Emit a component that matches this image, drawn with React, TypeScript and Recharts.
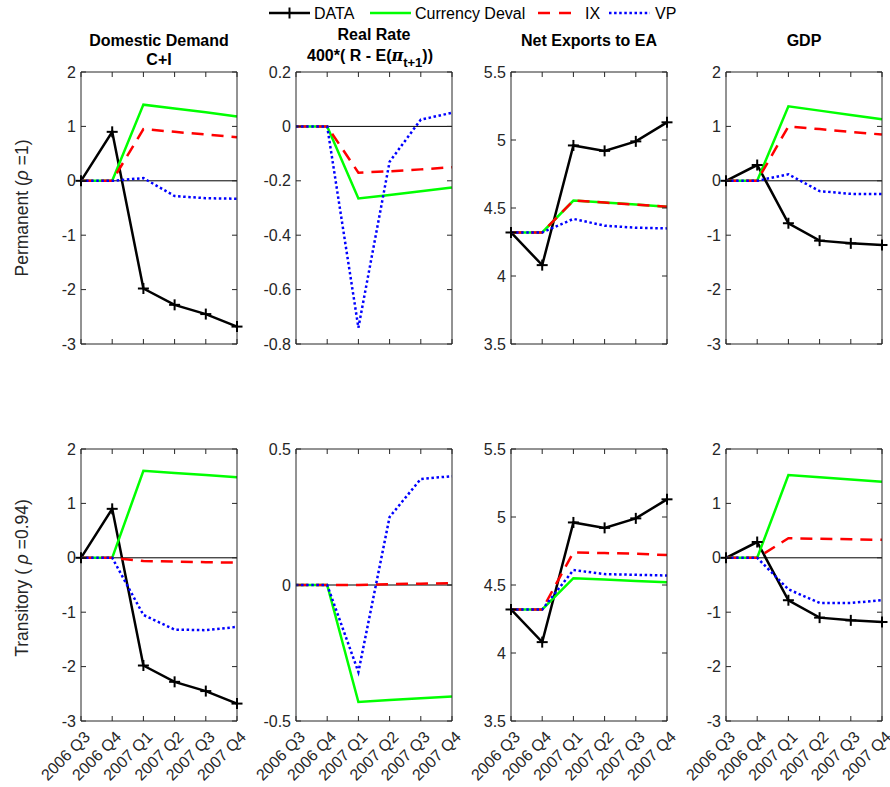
import React from "react";
import { LineChart, Line, XAxis, YAxis, ReferenceLine } from "recharts";

// ---------- categories ----------
const quarters = ["2006 Q3", "2006 Q4", "2007 Q1", "2007 Q2", "2007 Q3", "2007 Q4"];

// ---------- observed data ----------
const ddData = [0, 0.9, -1.98, -2.28, -2.45, -2.68];
const nxData = [4.32, 4.08, 4.96, 4.92, 4.99, 5.13];
const gdpData = [0, 0.29, -0.78, -1.1, -1.15, -1.18];

// ---------- permanent (rho = 1) ----------
const permDdDeval = [0, 0, 1.4, 1.33, 1.26, 1.18];
const permDdIx = [0, 0, 0.95, 0.9, 0.85, 0.8];
const permDdVp = [0, 0, 0.05, -0.28, -0.32, -0.33];

const permRrDeval = [0, 0, -0.265, -0.252, -0.238, -0.225];
const permRrIx = [0, 0, -0.17, -0.165, -0.158, -0.15];
const permRrVp = [0, 0, -0.74, -0.13, 0.025, 0.05];

const permNxDeval = [4.32, 4.32, 4.555, 4.54, 4.525, 4.51];
const permNxIx = [4.32, 4.32, 4.555, 4.54, 4.525, 4.51];
const permNxVp = [4.32, 4.32, 4.42, 4.37, 4.355, 4.35];

const permGdpDeval = [0, 0, 1.37, 1.29, 1.21, 1.13];
const permGdpIx = [0, 0, 1.0, 0.95, 0.9, 0.85];
const permGdpVp = [0, 0, 0.12, -0.19, -0.24, -0.245];

// ---------- transitory (rho = 0.94) ----------
const transDdDeval = [0, 0, 1.6, 1.56, 1.52, 1.48];
const transDdIx = [0, 0, -0.06, -0.07, -0.08, -0.09];
const transDdVp = [0, 0, -1.05, -1.32, -1.33, -1.27];

const transRrDeval = [0, 0, -0.43, -0.423, -0.416, -0.41];
const transRrIx = [0, 0, 0.0, 0.003, 0.005, 0.007];
const transRrVp = [0, 0, -0.32, 0.25, 0.39, 0.4];

const transNxDeval = [4.32, 4.32, 4.55, 4.54, 4.53, 4.52];
const transNxIx = [4.32, 4.32, 4.74, 4.735, 4.73, 4.72];
const transNxVp = [4.32, 4.32, 4.61, 4.58, 4.575, 4.57];

const transGdpDeval = [0, 0, 1.52, 1.48, 1.44, 1.4];
const transGdpIx = [0, 0, 0.36, 0.35, 0.34, 0.33];
const transGdpVp = [0, 0, -0.58, -0.83, -0.83, -0.78];

// ---------- axis ticks ----------
const ticksLevel = [-3, -2, -1, 0, 1, 2];
const ticksRrPerm = [-0.8, -0.6, -0.4, -0.2, 0, 0.2];
const ticksRrTrans = [-0.5, 0, 0.5];
const ticksNx = [3.5, 4, 4.5, 5, 5.5];

// ---------- legend / labels ----------
const legendLabels = ["DATA", "Currency Deval", "IX", "VP"];
const rowLabels = ["Permanent", "Transitory"];

// ---------- layout / style ----------
const FONT = "'Liberation Sans', Arial, Helvetica, sans-serif";
const AX = "#262626";
const PLOT_W = 156;
const PLOT_H = 272;
const COL_LEFT = [81, 296, 511, 726];
const ROW_TOP = [72, 449];
const Y_AXIS_W = 60;
const MARGIN_TOP = 7;
const MARGIN_RIGHT = 30;
const TICK_LEN = 5;
const TICK_W = 1;
const Y_LABEL_GAP = 5;
const X_LABEL_GAP = 8;

const C_DATA = "#000000";
const C_DEVAL = "#00FF00";
const C_IX = "#FF0000";
const C_VP = "#0000FF";
const DASH_IX = "12 8";
const DASH_VP = "2.5 2.6";
const LW = 2.5;

type Spec = {
  data?: number[];
  deval: number[];
  ix: number[];
  vp: number[];
  domain: [number, number];
  ticks: number[];
};

const panels: Spec[][] = [
  [
    { data: ddData, deval: permDdDeval, ix: permDdIx, vp: permDdVp, domain: [-3, 2], ticks: ticksLevel },
    { deval: permRrDeval, ix: permRrIx, vp: permRrVp, domain: [-0.8, 0.2], ticks: ticksRrPerm },
    { data: nxData, deval: permNxDeval, ix: permNxIx, vp: permNxVp, domain: [3.5, 5.5], ticks: ticksNx },
    { data: gdpData, deval: permGdpDeval, ix: permGdpIx, vp: permGdpVp, domain: [-3, 2], ticks: ticksLevel },
  ],
  [
    { data: ddData, deval: transDdDeval, ix: transDdIx, vp: transDdVp, domain: [-3, 2], ticks: ticksLevel },
    { deval: transRrDeval, ix: transRrIx, vp: transRrVp, domain: [-0.5, 0.5], ticks: ticksRrTrans },
    { data: nxData, deval: transNxDeval, ix: transNxIx, vp: transNxVp, domain: [3.5, 5.5], ticks: ticksNx },
    { data: gdpData, deval: transGdpDeval, ix: transGdpIx, vp: transGdpVp, domain: [-3, 2], ticks: ticksLevel },
  ],
];

function buildRows(s: Spec) {
  return quarters.map((q, i) => ({
    q,
    data: s.data ? s.data[i] : null,
    deval: s.deval[i],
    ix: s.ix[i],
    vp: s.vp[i],
  }));
}

const PlusDot = (props: any) => {
  const { cx, cy } = props;
  if (cx == null || cy == null) return null;
  return (
    <g>
      <line x1={cx - 5.5} x2={cx + 5.5} y1={cy} y2={cy} stroke={C_DATA} strokeWidth={2} />
      <line x1={cx} x2={cx} y1={cy - 5.5} y2={cy + 5.5} stroke={C_DATA} strokeWidth={2} />
    </g>
  );
};

// left axis: label + inward tick
const YTickLeft = (props: any) => {
  const { x, y, payload } = props;
  const ax = x + Y_LABEL_GAP;
  return (
    <g>
      <line x1={ax} x2={ax + TICK_LEN} y1={y} y2={y} stroke={AX} strokeWidth={TICK_W} />
      <text x={x} y={y} dy={5.6} textAnchor="end" fontSize={16} fill={AX} fontFamily={FONT}>
        {String(payload.value)}
      </text>
    </g>
  );
};

// right axis: inward tick only
const YTickRight = (props: any) => {
  const { x, y } = props;
  return <line x1={x - TICK_LEN} x2={x} y1={y} y2={y} stroke={AX} strokeWidth={TICK_W} />;
};

// top axis: inward tick only
const XTickTop = (props: any) => {
  const { x, y } = props;
  return <line x1={x} x2={x} y1={y} y2={y + TICK_LEN} stroke={AX} strokeWidth={TICK_W} />;
};

// bottom axis: inward tick, optional rotated label
const XTickBottom = (props: any) => {
  const { x, y, payload, showLabel } = props;
  const ay = y - X_LABEL_GAP;
  return (
    <g>
      <line x1={x} x2={x} y1={ay} y2={ay - TICK_LEN} stroke={AX} strokeWidth={TICK_W} />
      {showLabel && (
        <text
          transform={`translate(${x + 3},${y + 2}) rotate(-45)`}
          textAnchor="end"
          dy={10}
          fontSize={16}
          fill={AX}
          fontFamily={FONT}
        >
          {payload.value}
        </text>
      )}
    </g>
  );
};

function Panel({ spec, row, col }: { spec: Spec; row: number; col: number }) {
  const rows = buildRows(spec);
  const xh = row === 0 ? 12 : 80;
  const w = Y_AXIS_W + PLOT_W + MARGIN_RIGHT + 1;
  const h = MARGIN_TOP + 1 + PLOT_H + xh;
  const hasZero = spec.domain[0] < 0 && spec.domain[1] > 0;
  const axisLine = { stroke: AX, strokeWidth: 1 };
  return (
    <div style={{ position: "absolute", left: COL_LEFT[col] - Y_AXIS_W, top: ROW_TOP[row] - MARGIN_TOP - 1 }}>
      <LineChart width={w} height={h} data={rows} margin={{ top: MARGIN_TOP, right: MARGIN_RIGHT, left: 0, bottom: 0 }}>
        <XAxis
          dataKey="q"
          height={xh}
          interval={0}
          tickSize={0}
          tickMargin={X_LABEL_GAP}
          tickLine={false}
          tick={<XTickBottom showLabel={row === 1} />}
          axisLine={axisLine}
        />
        <XAxis
          xAxisId="top"
          orientation="top"
          dataKey="q"
          height={1}
          interval={0}
          tickSize={0}
          tickMargin={0}
          tickLine={false}
          tick={<XTickTop />}
          axisLine={axisLine}
        />
        <YAxis
          type="number"
          width={Y_AXIS_W}
          domain={spec.domain}
          ticks={spec.ticks}
          interval={0}
          allowDataOverflow
          tickSize={0}
          tickMargin={Y_LABEL_GAP}
          tickLine={false}
          tick={<YTickLeft />}
          axisLine={axisLine}
        />
        <YAxis
          yAxisId="r"
          orientation="right"
          type="number"
          width={1}
          domain={spec.domain}
          ticks={spec.ticks}
          interval={0}
          allowDataOverflow
          tickSize={0}
          tickMargin={0}
          tickLine={false}
          tick={<YTickRight />}
          axisLine={axisLine}
        />
        {hasZero && <ReferenceLine y={0} stroke="#000" strokeWidth={1} />}
        {spec.data && (
          <Line
            dataKey="data"
            stroke={C_DATA}
            strokeWidth={LW}
            dot={<PlusDot />}
            activeDot={false}
            isAnimationActive={false}
          />
        )}
        <Line dataKey="deval" stroke={C_DEVAL} strokeWidth={LW} dot={false} activeDot={false} isAnimationActive={false} />
        <Line
          dataKey="ix"
          stroke={C_IX}
          strokeWidth={LW}
          strokeDasharray={DASH_IX}
          dot={false}
          activeDot={false}
          isAnimationActive={false}
        />
        <Line
          dataKey="vp"
          stroke={C_VP}
          strokeWidth={LW}
          strokeDasharray={DASH_VP}
          dot={false}
          activeDot={false}
          isAnimationActive={false}
        />
      </LineChart>
    </div>
  );
}

function Overlay() {
  const colCenter = (c: number) => COL_LEFT[c] + PLOT_W / 2;
  return (
    <svg
      width={890}
      height={787}
      style={{ position: "absolute", left: 0, top: 0, pointerEvents: "none" }}
      fontFamily={FONT}
    >
      {/* legend */}
      <g>
        <line x1={269} x2={310} y1={13} y2={13} stroke={C_DATA} strokeWidth={LW} />
        <line x1={284} x2={295} y1={13} y2={13} stroke={C_DATA} strokeWidth={2} />
        <line x1={289.5} x2={289.5} y1={7.5} y2={18.5} stroke={C_DATA} strokeWidth={2} />
        <text x={314} y={19} fontSize={16} fill="#000">{legendLabels[0]}</text>
        <line x1={370} x2={411} y1={13} y2={13} stroke={C_DEVAL} strokeWidth={LW} />
        <text x={415} y={19} fontSize={16} fill="#000">{legendLabels[1]}</text>
        <line x1={538} x2={580} y1={13} y2={13} stroke={C_IX} strokeWidth={LW} strokeDasharray="12 9" />
        <text x={585} y={19} fontSize={16} fill="#000">{legendLabels[2]}</text>
        <line x1={609} x2={650} y1={13} y2={13} stroke={C_VP} strokeWidth={LW} strokeDasharray={DASH_VP} />
        <text x={655} y={19} fontSize={16} fill="#000">{legendLabels[3]}</text>
      </g>
      {/* titles */}
      <g fontSize={16} fontWeight="bold" fill="#000" textAnchor="middle">
        <text x={colCenter(0)} y={46}>Domestic Demand</text>
        <text x={colCenter(0)} y={65}>C+I</text>
        <text x={colCenter(1)} y={40}>Real Rate</text>
        <text x={colCenter(1) - 4} y={61}>
          400*( R - E(
          <tspan fontStyle="italic" fontFamily="'DejaVu Serif', serif">π</tspan>
          <tspan fontSize={13} dy={6}>t+1</tspan>
          <tspan dy={-6}>))</tspan>
        </text>
        <text x={colCenter(2)} y={46}>Net Exports to EA</text>
        <text x={colCenter(3)} y={46}>GDP</text>
      </g>
      {/* row labels */}
      <g fontSize={17.5} fill={AX} textAnchor="middle">
        <text transform="translate(28,208) rotate(-90)">
          {rowLabels[0]} (<tspan fontStyle="italic">ρ</tspan> =1)
        </text>
        <text transform="translate(28,578) rotate(-90)">
          {rowLabels[1]} ( <tspan fontStyle="italic">ρ</tspan> =0.94)
        </text>
      </g>
    </svg>
  );
}

export default function App() {
  return (
    <div
      style={{
        position: "absolute",
        left: 0,
        top: 0,
        width: 890,
        height: 787,
        background: "#fff",
        fontFamily: FONT,
        overflow: "hidden",
      }}
    >
      {panels.map((rowSpecs, r) =>
        rowSpecs.map((spec, c) => <Panel key={`${r}-${c}`} spec={spec} row={r} col={c} />)
      )}
      <Overlay />
    </div>
  );
}
